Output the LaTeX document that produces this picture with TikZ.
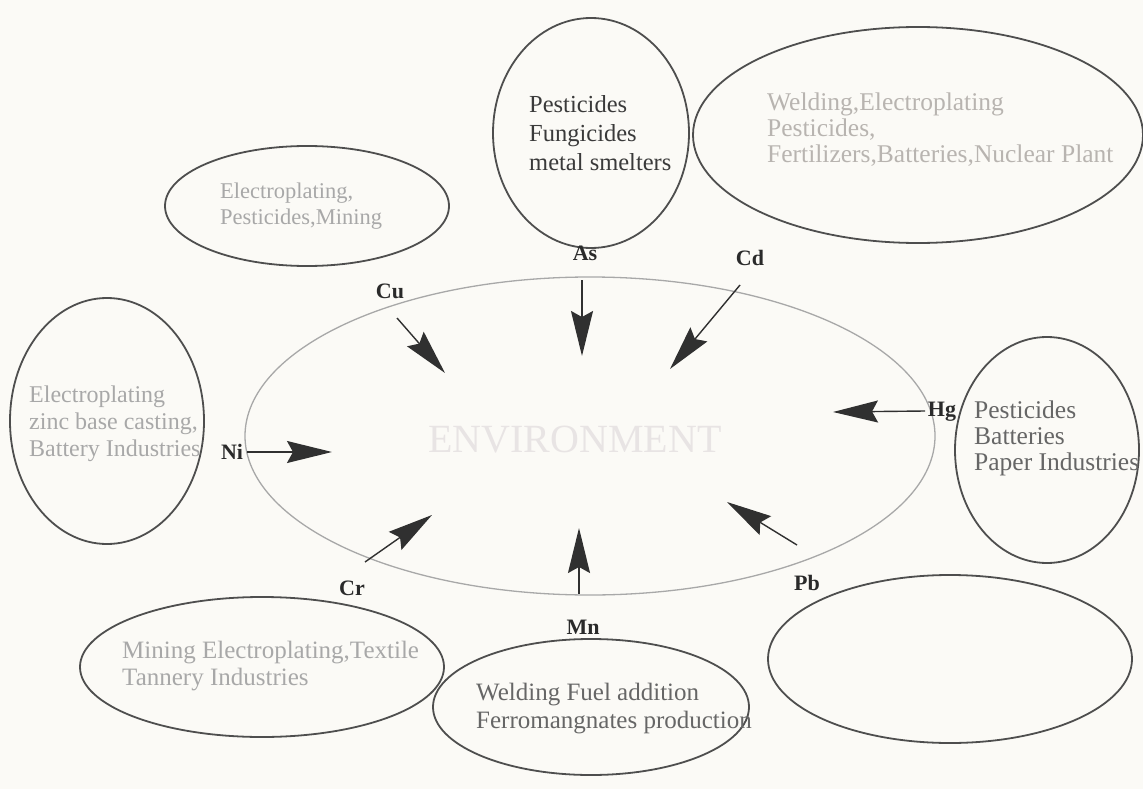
\documentclass[tikz,border=0pt]{standalone}
\usepackage{fontspec}
\setmainfont{Liberation Serif}
\usetikzlibrary{shapes.geometric,arrows.meta}
\definecolor{bg}{HTML}{FBFAF6}
\definecolor{edgec}{HTML}{4E4E4E}
\definecolor{envc}{HTML}{A8A8A8}
\definecolor{envtext}{HTML}{E8E4E4}
\definecolor{arrowc}{HTML}{303030}
\definecolor{labelc}{HTML}{2A2A2A}
\definecolor{darktext}{HTML}{3A3A3A}
\definecolor{midtext}{HTML}{666666}
\definecolor{lighttext}{HTML}{A8A8A8}
\definecolor{palertext}{HTML}{B8B4B0}
\begin{document}
\begin{tikzpicture}[x=1pt,y=-1pt,
  src/.style={ellipse, draw=edgec, line width=1.8pt, inner sep=0pt},
  srctext/.style={align=left, anchor=west, inner sep=0pt, font=\fontsize{24}{28}\selectfont},
  metal/.style={font=\bfseries\fontsize{22}{24}\selectfont, text=labelc, inner sep=1pt},
  flow/.style={draw=arrowc, line width=1.4pt, -{Stealth[length=45pt,width=22pt,inset=6pt]}}]
\fill[bg] (0,0) rectangle (1143,789);
\useasboundingbox (0,0) rectangle (1143,789);

% central ellipse
\node[ellipse, draw=envc, line width=1.3pt, minimum width=690pt, minimum height=318pt, inner sep=0pt] (env) at (590,436) {};
\node[text=envtext, font=\fontsize{40}{44}\selectfont, inner sep=0pt] (envT) at (575,440) {ENVIRONMENT};

% source ellipses
\node[src, minimum width=196pt, minimum height=230pt] (asE) at (591,133) {};
\node[srctext, text=darktext, font=\fontsize{24.5}{29}\selectfont] (asT) at (529,133) {Pesticides\\Fungicides\\metal smelters};

\node[src, minimum width=450pt, minimum height=216pt] (cdE) at (918,135) {};
\node[srctext, text=palertext, font=\fontsize{25.5}{26}\selectfont] (cdT) at (767,130) {Welding,Electroplating\\Pesticides,\\Fertilizers,Batteries,Nuclear Plant};

\node[src, minimum width=284pt, minimum height=120pt] (cuE) at (307,206) {};
\node[srctext, text=lighttext, font=\fontsize{22.5}{26}\selectfont] (cuT) at (220,206) {Electroplating,\\Pesticides,Mining};

\node[src, minimum width=194pt, minimum height=246pt] (niE) at (107,421) {};
\node[srctext, text=lighttext, font=\fontsize{24}{27}\selectfont] (niT) at (29,424) {Electroplating\\zinc base casting,\\Battery Industries};

\node[src, minimum width=184pt, minimum height=226pt] (hgE) at (1047,450) {};
\node[srctext, text=midtext, font=\fontsize{25.5}{26}\selectfont] (hgT) at (974,438) {Pesticides\\Batteries\\Paper Industries};

\node[src, minimum width=316pt, minimum height=136pt] (mnE) at (591,707) {};
\node[srctext, text=midtext, font=\fontsize{25}{28}\selectfont] (mnT) at (476,709) {Welding Fuel addition\\Ferromangnates production};

\node[src, minimum width=364pt, minimum height=140pt] (crE) at (262,667) {};
\node[srctext, text=lighttext, font=\fontsize{25}{27}\selectfont] (crT) at (122,666) {Mining Electroplating,Textile\\Tannery Industries};

\node[src, minimum width=364pt, minimum height=168pt] (pbE) at (950,659) {};

% metal labels
\node[metal] (cuL) at (390,291) {Cu};
\node[metal] (asL) at (585,253) {As};
\node[metal] (cdL) at (750,258) {Cd};
\node[metal] (niL) at (232,452) {Ni};
\node[metal] (hgL) at (942,412) {Hg};
\node[metal] (crL) at (352,588) {Cr};
\node[metal] (mnL) at (583,627) {Mn};
\node[metal] (pbL) at (807,583) {Pb};

% arrow ends
\coordinate (cuS) at (397,318); \coordinate (cuP) at (445,373);
\coordinate (asS) at (582,280); \coordinate (asP) at (582,356);
\coordinate (cdS) at (740,285); \coordinate (cdP) at (670,369);
\coordinate (niS) at (247,452); \coordinate (niP) at (332,452);
\coordinate (hgS) at (925,411); \coordinate (hgP) at (833,412);
\coordinate (crS) at (365,562); \coordinate (crP) at (432,515);
\coordinate (mnS) at (579,594); \coordinate (mnP) at (579,528);
\coordinate (pbS) at (797,545); \coordinate (pbP) at (727,502);

\draw[flow] (cuS) -- (cuP);
\draw[flow] (asS) -- (asP);
\draw[flow] (cdS) -- (cdP);
\draw[flow] (niS) -- (niP);
\draw[flow] (hgS) -- (hgP);
\draw[flow] (crS) -- (crP);
\draw[flow] (mnS) -- (mnP);
\draw[flow] (pbS) -- (pbP);
\end{tikzpicture}
\end{document}
